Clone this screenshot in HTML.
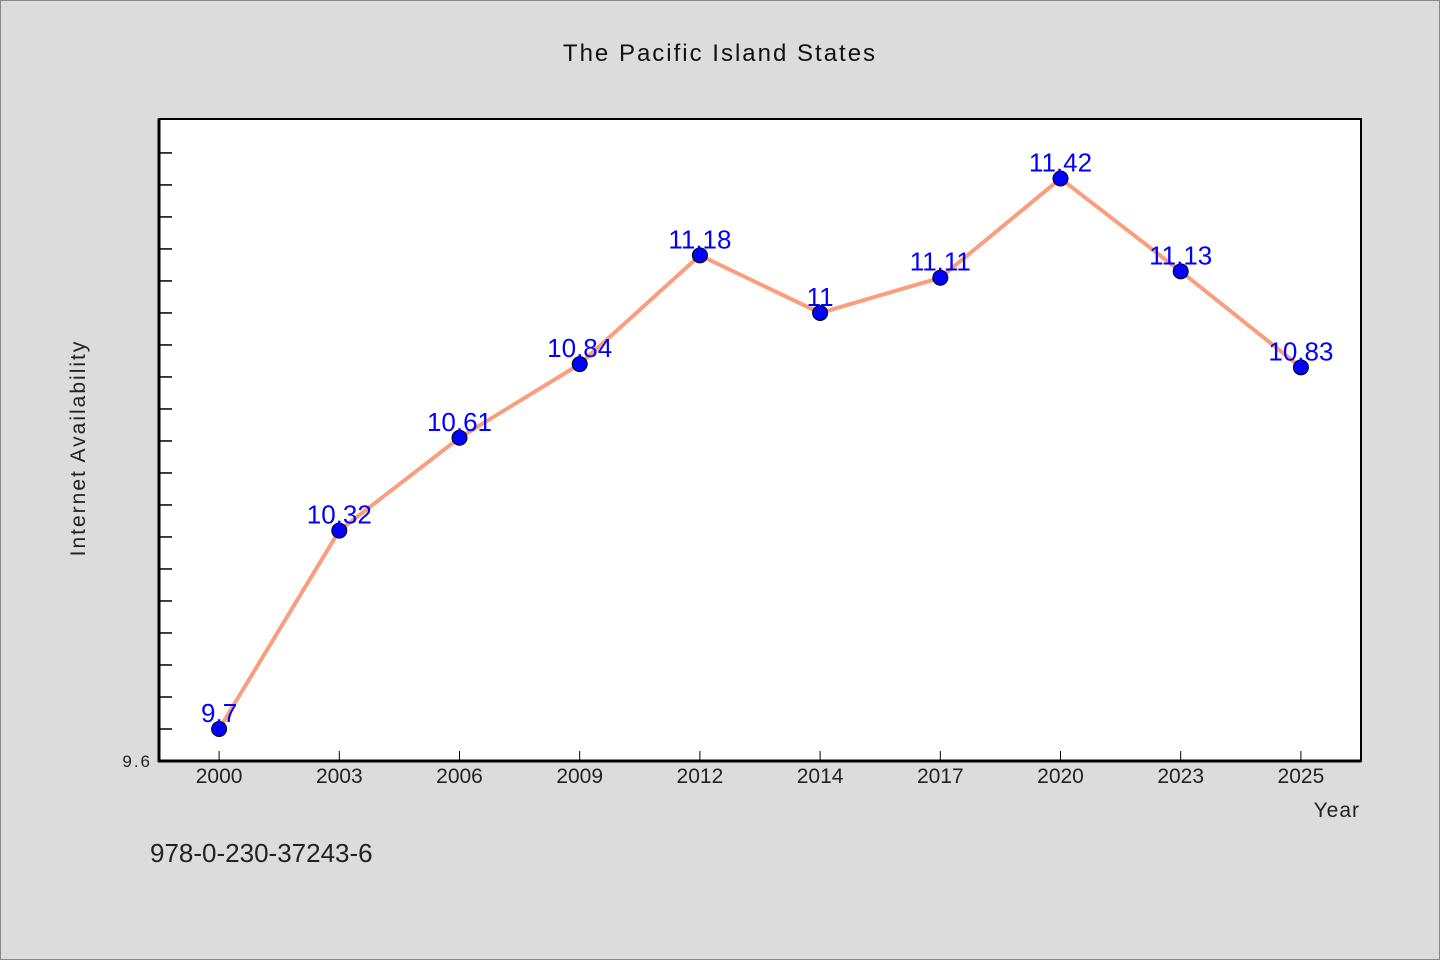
<!DOCTYPE html>
<html><head><meta charset="utf-8"><style>
body{margin:0;background:#dcdcdc;}
svg{display:block;font-family:"WenQuanYi Zen Hei","Liberation Sans",sans-serif;}
</style></head><body>
<svg id="c" width="1440" height="960">
<rect x="0.5" y="0.5" width="1439" height="959" fill="#dcdcdc" stroke="#888"/>
<text x="720" y="61" text-anchor="middle" font-size="24" letter-spacing="2" fill="#111">The Pacific Island States</text>
<rect x="159" y="119" width="1202" height="642" fill="#fff" stroke="#000" stroke-width="2"/>
<g id="ticks"></g>
<g id="marks"></g>
<line x1="159" y1="119" x2="159" y2="762" stroke="#000" stroke-width="3"/>
<line x1="158" y1="761" x2="1361" y2="761" stroke="#000" stroke-width="3"/>
<text x="152" y="767" text-anchor="end" font-size="17" letter-spacing="2" fill="#222">9.6</text>
<text transform="translate(85,448) rotate(-90)" text-anchor="middle" font-size="21" letter-spacing="2" fill="#222">Internet Availability</text>
<text x="1360" y="817" text-anchor="end" font-size="21" letter-spacing="1" fill="#222">Year</text>
<text x="150" y="862" font-size="26" fill="#222">978-0-230-37243-6</text>
</svg>
<script>
const categories=["2000","2003","2006","2009","2012","2014","2017","2020","2023","2025"];
const values=[9.7,10.32,10.61,10.84,11.18,11,11.11,11.42,11.13,10.83];
const labels=["9.7","10.32","10.61","10.84","11.18","11","11.11","11.42","11.13","10.83"];
const yMin=9.6, yMax=11.606;
const L=159,R=1361,T=119,B=761;
const NS="http://www.w3.org/2000/svg";
const band=(R-L)/categories.length;
const x=i=>L+band*(i+0.5);
const y=v=>B-(v-yMin)/(yMax-yMin)*(B-T);
function mk(t,a,p){const e=document.createElementNS(NS,t);for(const k in a)e.setAttribute(k,a[k]);p.appendChild(e);return e;}
const tg=document.getElementById('ticks'),mg=document.getElementById('marks');
for(let k=1;k<=19;k++){const v=yMin+k*0.1;const yy=y(v);if(yy<T+5)break;
const t=mk('line',{x1:L,x2:L+13,y1:yy,y2:yy,stroke:'#000','stroke-width':1.5},tg);

}
categories.forEach((c,i)=>{
const t=mk('line',{x1:x(i),x2:x(i),y1:B-10,y2:B,stroke:'#000','stroke-width':1},tg);


const l=mk('text',{x:x(i),y:B+22,'text-anchor':'middle','font-size':21,fill:'#222'},tg);l.textContent=c;

});
const line=mk('polyline',{points:values.map((v,i)=>x(i)+','+y(v)).join(' '),fill:'none',stroke:'#fa9e7e','stroke-width':4},mg);


values.forEach((v,i)=>{
const p=mk('circle',{cx:x(i),cy:y(v),r:7.5,fill:'#0000ff',stroke:'#000','stroke-width':1},mg);


const l=mk('text',{x:x(i),y:y(v)-7,'text-anchor':'middle','font-size':26,fill:'#0000ff','font-family':'"Liberation Sans",sans-serif'},mg);l.textContent=labels[i];

});
</script>
</body></html>
